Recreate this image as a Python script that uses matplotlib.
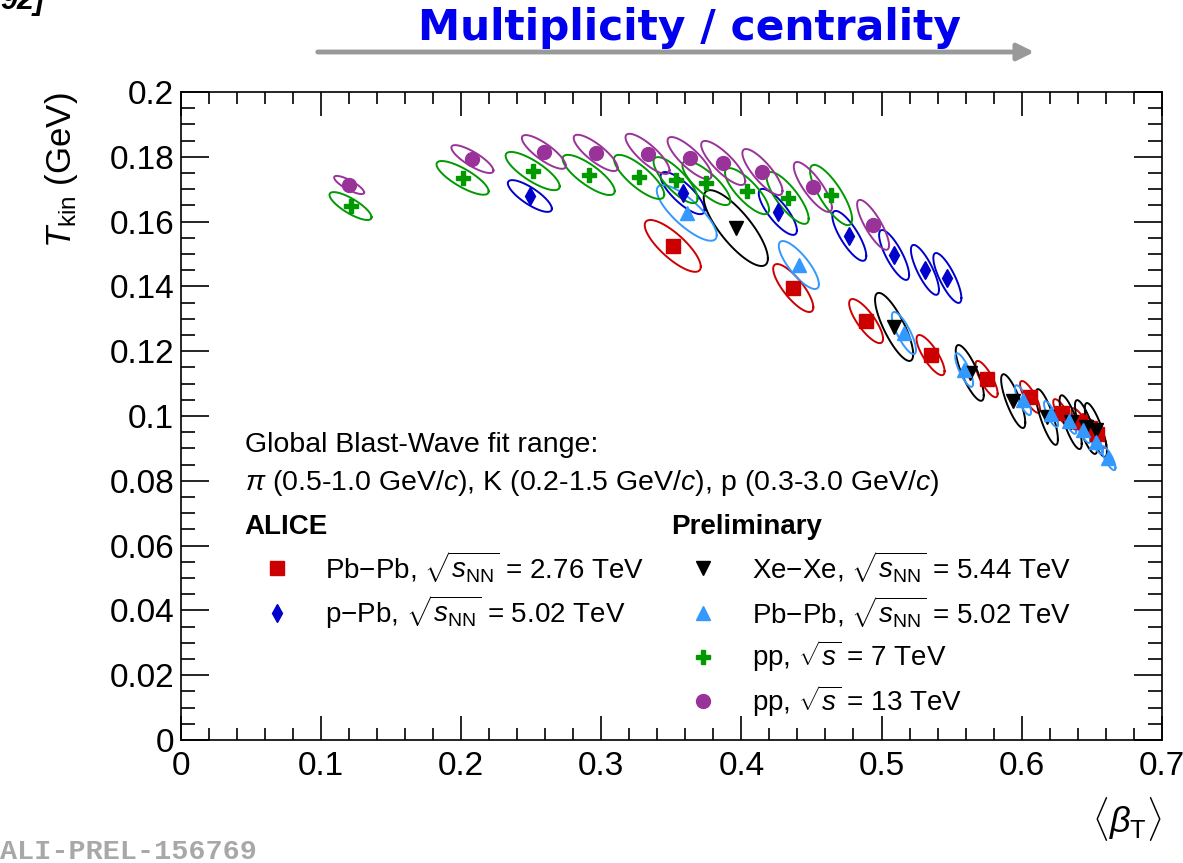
import numpy as np
import matplotlib
matplotlib.use("Agg")
import matplotlib.pyplot as plt
from matplotlib.lines import Line2D
from matplotlib.ticker import MultipleLocator, FuncFormatter

plt.rcParams['font.family'] = ['Liberation Sans', 'DejaVu Sans']
plt.rcParams['mathtext.fontset'] = 'custom'
plt.rcParams['mathtext.rm'] = 'Liberation Sans'
plt.rcParams['mathtext.it'] = 'Liberation Sans:italic'
plt.rcParams['mathtext.bf'] = 'Liberation Sans:bold'

# Pb-Pb 2.76 TeV
pbpb276_beta = [0.351, 0.437, 0.489, 0.535, 0.575, 0.606, 0.629, 0.642, 0.649, 0.654]
pbpb276_T = [0.1525, 0.1395, 0.1293, 0.1188, 0.1114, 0.1059, 0.1009, 0.0981, 0.0963, 0.0945]
pbpb276_sb = [0.020, 0.0143, 0.0121, 0.010, 0.0079, 0.0071, 0.0064, 0.0064, 0.0064, 0.0064]
pbpb276_sT = [0.0080, 0.0074, 0.0068, 0.0062, 0.0056, 0.0049, 0.0043, 0.0043, 0.0043, 0.0043]

# p-Pb 5.02 TeV
ppb_beta = [0.249, 0.358, 0.426, 0.477, 0.509, 0.531, 0.547]
ppb_T = [0.1679, 0.1688, 0.1630, 0.1556, 0.1497, 0.1451, 0.1426]
ppb_sb = [0.0157, 0.0157, 0.0136, 0.0121, 0.0107, 0.010, 0.010]
ppb_sT = [0.0049, 0.0065, 0.0071, 0.0077, 0.0077, 0.0077, 0.0077]

# Xe-Xe 5.44 TeV
xexe_beta = [0.396, 0.509, 0.563, 0.594, 0.618, 0.635, 0.646, 0.653]
xexe_T = [0.1580, 0.1275, 0.1133, 0.1046, 0.0997, 0.0981, 0.0966, 0.0957]
xexe_sb = [0.0229, 0.0136, 0.010, 0.0086, 0.0079, 0.0079, 0.0079, 0.0079]
xexe_sT = [0.0117, 0.0105, 0.0086, 0.0083, 0.0086, 0.0083, 0.0083, 0.0083]

# Pb-Pb 5.02 TeV
pbpb502_beta = [0.361, 0.441, 0.516, 0.559, 0.601, 0.621, 0.634, 0.644, 0.653, 0.662]
pbpb502_T = [0.1627, 0.1466, 0.1256, 0.1142, 0.1049, 0.1006, 0.0985, 0.0957, 0.0920, 0.0870]
pbpb502_sb = [0.0214, 0.0143, 0.0086, 0.0064, 0.0057, 0.005, 0.005, 0.005, 0.005, 0.005]
pbpb502_sT = [0.0086, 0.0074, 0.0065, 0.0052, 0.0046, 0.0040, 0.0040, 0.0040, 0.0037, 0.0037]

# pp 7 TeV
pp7_beta = [0.121, 0.201, 0.251, 0.291, 0.327, 0.353, 0.375, 0.404, 0.433, 0.464]
pp7_T = [0.1648, 0.1735, 0.1756, 0.1744, 0.1738, 0.1728, 0.1719, 0.1694, 0.1673, 0.1682]
pp7_sb = [0.015, 0.0186, 0.0193, 0.0186, 0.0179, 0.0157, 0.0171, 0.0157, 0.015, 0.015]
pp7_sT = [0.0043, 0.0052, 0.0059, 0.0062, 0.0068, 0.0071, 0.0068, 0.0071, 0.0080, 0.0093]

# pp 13 TeV
pp13_beta = [0.120, 0.208, 0.259, 0.296, 0.333, 0.363, 0.387, 0.415, 0.451, 0.494]
pp13_T = [0.1713, 0.1793, 0.1815, 0.1812, 0.1809, 0.1796, 0.1781, 0.1753, 0.1707, 0.1590]
pp13_sb = [0.0107, 0.015, 0.0157, 0.0157, 0.0157, 0.0157, 0.0157, 0.0143, 0.0136, 0.0114]
pp13_sT = [0.0028, 0.0043, 0.0052, 0.0056, 0.0062, 0.0065, 0.0068, 0.0071, 0.0077, 0.0077]


def ellipse(x0, y0, sx, sy, rho, n=120):
    t = np.linspace(0, 2 * np.pi, n)
    x = x0 + sx * np.cos(t)
    y = y0 + sy * (rho * np.cos(t) + np.sqrt(1 - rho ** 2) * np.sin(t))
    return x, y


series = [
    # beta, T, sigma_beta, sigma_T, rho, colour, marker, size, label
    (pbpb276_beta, pbpb276_T, pbpb276_sb, pbpb276_sT, -0.8, '#cc0000', 's', 10,
     r'Pb$-$Pb, $\sqrt{s_{\rm NN}}$ = 2.76 TeV'),
    (ppb_beta, ppb_T, ppb_sb, ppb_sT, -0.8, '#0000cc', 'd', 9,
     r'p$-$Pb, $\sqrt{s_{\rm NN}}$ = 5.02 TeV'),
    (xexe_beta, xexe_T, xexe_sb, xexe_sT, -0.8, 'black', 'v', 10,
     r'Xe$-$Xe, $\sqrt{s_{\rm NN}}$ = 5.44 TeV'),
    (pbpb502_beta, pbpb502_T, pbpb502_sb, pbpb502_sT, -0.8, '#3399ff', '^', 10,
     r'Pb$-$Pb, $\sqrt{s_{\rm NN}}$ = 5.02 TeV'),
    (pp7_beta, pp7_T, pp7_sb, pp7_sT, -0.8, '#009900', 'P', 10,
     r'pp, $\sqrt{s}$ = 7 TeV'),
    (pp13_beta, pp13_T, pp13_sb, pp13_sT, -0.82, '#993399', 'o', 10,
     r'pp, $\sqrt{s}$ = 13 TeV'),
]

fig = plt.figure(figsize=(11.83, 8.63), dpi=100)
ax = fig.add_axes([0.153, 0.1425, 0.829, 0.7509])

handles = []
for bx, ty, sb, st, rho, col, mk, ms, lab in series:
    for x0, y0, sx, sy in zip(bx, ty, sb, st):
        ex, ey = ellipse(x0, y0, sx, sy, rho)
        ax.plot(ex, ey, color=col, lw=1.4, zorder=2)
for bx, ty, sb, st, rho, col, mk, ms, lab in series:
    ax.plot(bx, ty, ls='none', marker=mk, ms=ms, color=col, mec=col, zorder=3)
    handles.append(Line2D([], [], ls='none', marker=mk, ms=ms, color=col, label=lab))

ax.set_xlim(0, 0.7)
ax.set_ylim(0, 0.2)
ax.xaxis.set_major_locator(MultipleLocator(0.1))
ax.xaxis.set_minor_locator(MultipleLocator(0.02))
ax.yaxis.set_major_locator(MultipleLocator(0.02))
ax.yaxis.set_minor_locator(MultipleLocator(0.005))
fmt = FuncFormatter(lambda v, p: '%g' % round(v, 3))
ax.xaxis.set_major_formatter(fmt)
ax.yaxis.set_major_formatter(fmt)
ax.tick_params(which='both', direction='in', top=True, right=True, width=1.2, labelsize=24)
ax.tick_params(axis='y', which='major', length=20, pad=5)
ax.tick_params(axis='y', which='minor', length=10)
ax.tick_params(axis='x', which='major', length=17, pad=8)
ax.tick_params(axis='x', which='minor', length=8.5)
for s in ax.spines.values():
    s.set_linewidth(1.2)

ax.set_ylabel(r'$T_{\rm kin}$ (GeV)', fontsize=25, loc='top')
ax.yaxis.set_label_coords(-0.103, 1.0)
ax.set_xlabel(r'$\langle\beta_{\rm T}\rangle$', fontsize=26, loc='right')
ax.xaxis.set_label_coords(1.0, -0.085)

ax.text(0.065, 0.455, 'Global Blast-Wave fit range:', transform=ax.transAxes,
        fontsize=20.5, va='center')
ax.text(0.065, 0.397,
        r'$\pi$ (0.5-1.0 GeV/$c$), K (0.2-1.5 GeV/$c$), p (0.3-3.0 GeV/$c$)',
        transform=ax.transAxes, fontsize=20.5, va='center')

leg_kw = dict(loc='upper left', frameon=False, fontsize=20, alignment='left',
              title_fontproperties={'weight': 'bold', 'size': 20},
              handlelength=2.3, handletextpad=0.6, labelspacing=0.33,
              borderpad=0, borderaxespad=0)
leg1 = ax.legend(handles=handles[:2], bbox_to_anchor=(0.065, 0.349), title='ALICE', **leg_kw)
ax.add_artist(leg1)
ax.legend(handles=handles[2:], bbox_to_anchor=(0.5, 0.349), title='Preliminary', **leg_kw)

fig.text(690 / 1183, 1 - 28 / 863, 'Multiplicity / centrality', family='DejaVu Sans',
         fontsize=30.5, fontweight='bold', color='#0000ee', ha='center', va='center')
fig.patches.append(matplotlib.patches.FancyArrowPatch(
    (315 / 1183, 1 - 52 / 863), (1037 / 1183, 1 - 52 / 863), transform=fig.transFigure,
    arrowstyle='-|>,head_length=10,head_width=5', color='#999999', lw=3.5, mutation_scale=1))
fig.text(0.0, 1 - 9 / 863, '92]', fontsize=22, fontweight='bold', style='italic',
         va='baseline')
fig.text(0.0, 1 - 852 / 863, 'ALI-PREL-156769', family='Liberation Mono', fontweight='bold',
         fontsize=20.5, color='#a8a8a8', va='center')

fig.savefig('out.png', dpi=100)
